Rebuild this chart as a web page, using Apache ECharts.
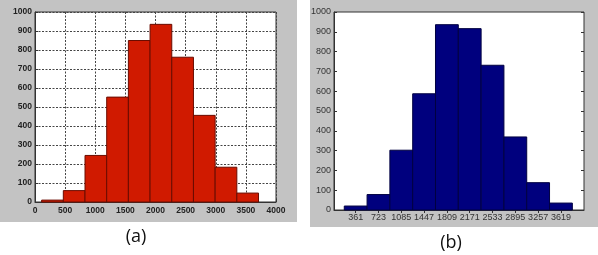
<!DOCTYPE html>
<html><head><meta charset="utf-8">
<script src="https://cdn.jsdelivr.net/npm/echarts@6/dist/echarts.min.js"></script>
<style>html,body{margin:0;padding:0;background:#fff}#c{width:598px;height:255px}</style>
</head><body><div id="c"></div>
<script>
// Chart (a): histogram bin left edges, bin width, counts
const aLeftEdges = [110, 470, 830, 1190, 1550, 1910, 2270, 2630, 2990, 3350];
const aBinWidth = 360;
const aCounts = [10, 60, 245, 552, 850, 935, 762, 456, 183, 47];
// Chart (b): bin centers (also tick labels), bin width, counts
const bCenters = [361, 723, 1085, 1447, 1809, 2171, 2533, 2895, 3257, 3619];
const bBinWidth = 362;
const bCounts = [20, 78, 302, 587, 936, 916, 731, 369, 138, 35];
const panelTitles = ['(a)', '(b)'];

const aData = aLeftEdges.map((x, i) => [x, x + aBinWidth, aCounts[i]]);
const bData = bCenters.map((c, i) => [c - bBinWidth / 2, c + bBinWidth / 2, bCounts[i]]);

function histItem(params, api) {
  const p0 = api.coord([api.value(0), api.value(2)]);
  const p1 = api.coord([api.value(1), 0]);
  return {
    type: 'rect',
    shape: { x: p0[0], y: p0[1], width: p1[0] - p0[0], height: p1[1] - p0[1] },
    style: api.style()
  };
}
const plain = v => String(v);

const chart = echarts.init(document.getElementById('c'), null, { renderer: 'canvas' });
const labA = { color: '#222', fontSize: 8.5, fontWeight: 'bold', fontFamily: 'Liberation Sans', formatter: plain };
const labB = { color: '#333', fontSize: 9, fontFamily: 'Liberation Sans', formatter: plain };
const dotted = { show: true, lineStyle: { color: '#444', type: [2, 1.5], width: 1 } };
const line = { show: true, onZero: false, lineStyle: { color: '#333', width: 1 } };

chart.setOption({
  animation: false,
  backgroundColor: '#fff',
  graphic: [
    { type: 'rect', z: -10, shape: { x: 0, y: 0, width: 297, height: 222 }, style: { fill: '#c3c3c3' } },
    { type: 'rect', z: -10, shape: { x: 310, y: 0, width: 288, height: 227 }, style: { fill: '#c3c3c3' } },
    { type: 'text', x: 136, y: 237, style: { text: panelTitles[0], font: '18px "Open Sans"', fill: '#111', align: 'center', verticalAlign: 'middle' } },
    { type: 'text', x: 451, y: 243, style: { text: panelTitles[1], font: '18px "Open Sans"', fill: '#111', align: 'center', verticalAlign: 'middle' } }
  ],
  grid: [
    { left: 35, top: 12, width: 241, height: 190, show: true, backgroundColor: '#fff', borderColor: '#333', borderWidth: 1 },
    { left: 334, top: 12, width: 250, height: 198, show: true, backgroundColor: '#fff', borderColor: '#333', borderWidth: 1 }
  ],
  xAxis: [
    { gridIndex: 0, type: 'value', min: 0, max: 4000, interval: 500, axisLine: line,
      axisTick: { inside: true, length: 3, lineStyle: { color: '#333' } }, splitLine: dotted,
      axisLabel: Object.assign({ margin: 4 }, labA) },
    { gridIndex: 1, type: 'value', min: 17, max: 3985, axisLine: line,
      axisTick: { inside: true, length: 3, customValues: bCenters, lineStyle: { color: '#333' } },
      splitLine: { show: false },
      axisLabel: Object.assign({ margin: 3, customValues: bCenters }, labB) },
    { gridIndex: 1, type: 'value', position: 'top', min: 17, max: 3985, axisLine: { show: false },
      axisTick: { inside: true, length: 3, customValues: bCenters, lineStyle: { color: '#333' } },
      splitLine: { show: false }, axisLabel: { show: false } }
  ],
  yAxis: [
    { gridIndex: 0, type: 'value', min: 0, max: 1000, interval: 100, axisLine: line,
      axisTick: { inside: true, length: 3, lineStyle: { color: '#333' } }, splitLine: dotted,
      axisLabel: Object.assign({ margin: 3 }, labA) },
    { gridIndex: 1, type: 'value', min: 0, max: 1000, interval: 100, axisLine: line,
      axisTick: { inside: true, length: 3, lineStyle: { color: '#333' } }, splitLine: { show: false },
      axisLabel: Object.assign({ margin: 3 }, labB) },
    { gridIndex: 1, type: 'value', position: 'right', min: 0, max: 1000, interval: 100, axisLine: { show: false },
      axisTick: { inside: true, length: 3, lineStyle: { color: '#333' } }, splitLine: { show: false },
      axisLabel: { show: false } }
  ],
  series: [
    { type: 'custom', xAxisIndex: 0, yAxisIndex: 0, renderItem: histItem, data: aData,
      encode: { x: [0, 1], y: 2 },
      itemStyle: { color: '#d01a00', borderColor: '#6a0c00', borderWidth: 1 } },
    { type: 'custom', xAxisIndex: 1, yAxisIndex: 1, renderItem: histItem, data: bData,
      encode: { x: [0, 1], y: 2 },
      itemStyle: { color: '#00007e', borderColor: '#000040', borderWidth: 1 } }
  ]
});
</script></body></html>
